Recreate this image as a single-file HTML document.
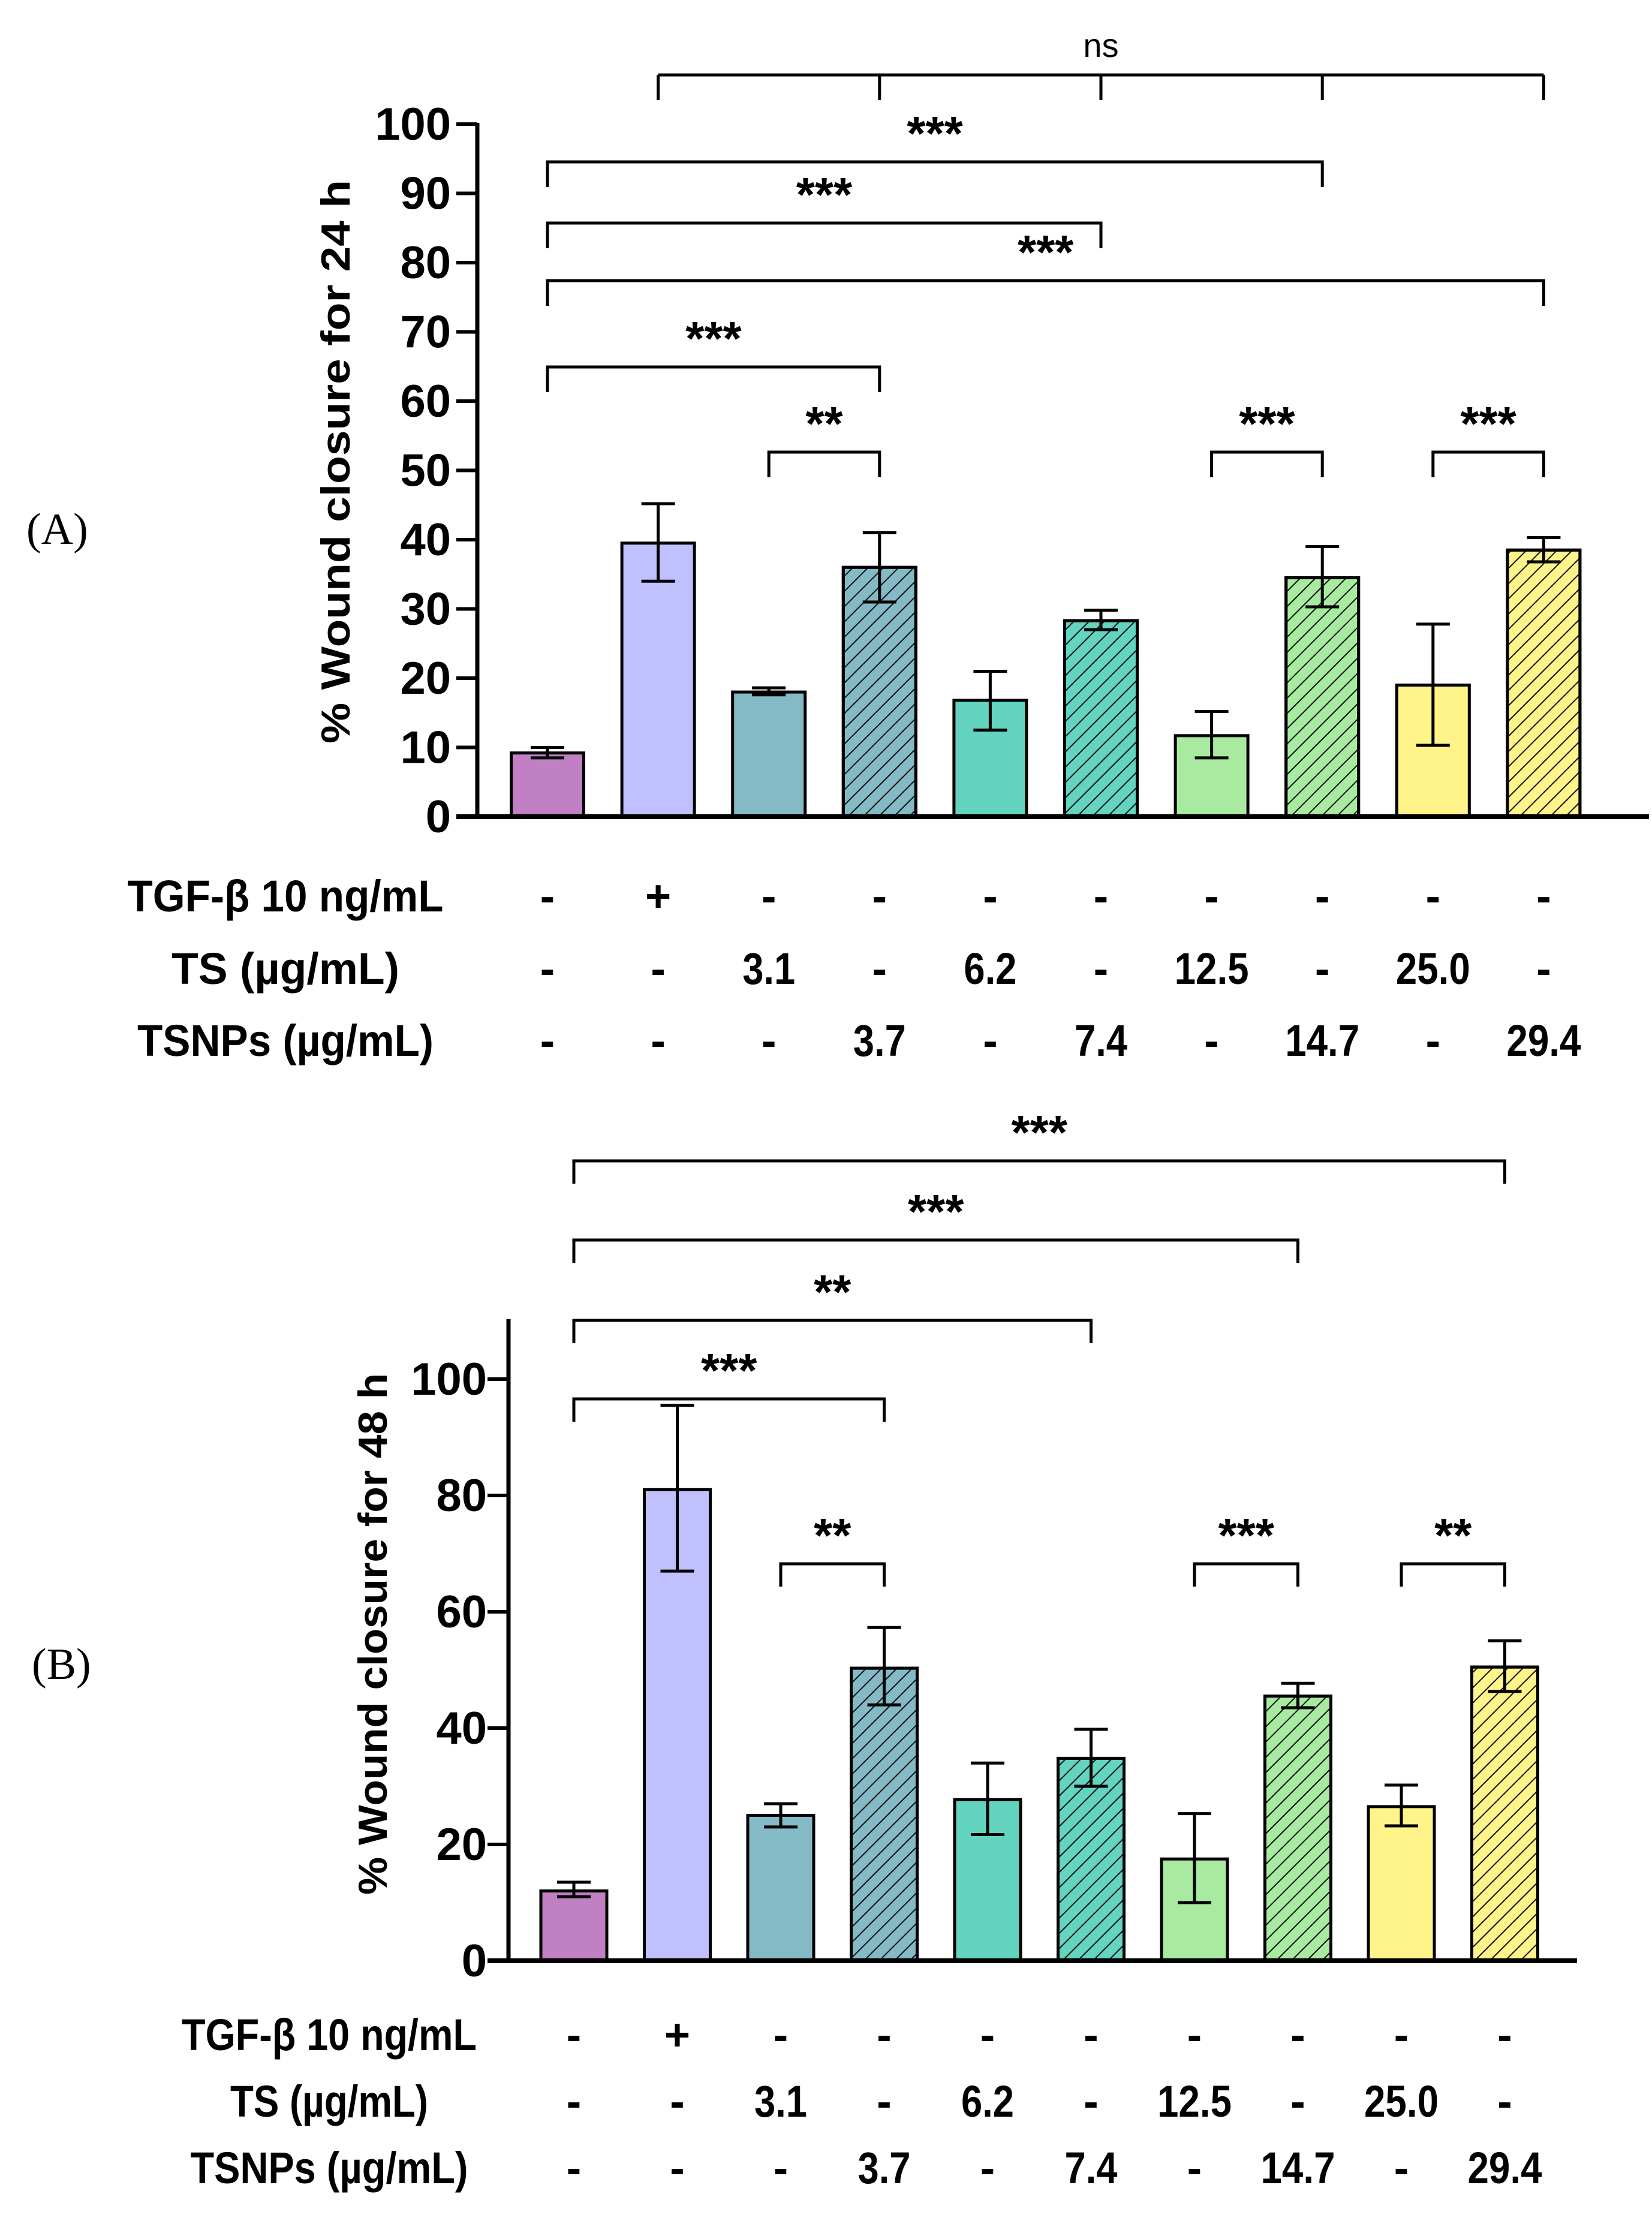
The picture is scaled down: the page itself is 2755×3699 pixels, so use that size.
<!DOCTYPE html>
<html><head><meta charset="utf-8"><style>
html,body{margin:0;padding:0;background:#fff}
svg{display:block}
text{font-family:"Liberation Sans Narrow","Liberation Sans",sans-serif;font-weight:bold;fill:#000}
.title{font-family:"Liberation Sans",sans-serif}
.panel{font-family:"Liberation Serif",serif;font-weight:normal}
</style></head><body>
<svg id="chart" xmlns="http://www.w3.org/2000/svg" width="2755" height="3699" viewBox="0 0 2755 3699">
<defs>
<pattern id="hatch" patternUnits="userSpaceOnUse" width="18" height="18" patternTransform="rotate(45)">
<line x1="0" y1="0" x2="0" y2="18" stroke="#111" stroke-width="4"/>
</pattern>
</defs>
</svg>
<script>
const categories = ["ctrl","tgf","ts3.1","tsnp3.7","ts6.2","tsnp7.4","ts12.5","tsnp14.7","ts25.0","tsnp29.4"];
const valuesA = [9.2, 39.5, 18.0, 36.0, 16.8, 28.3, 11.7, 34.5, 19.0, 38.5];
const errLowA = [8.5, 34.0, 17.6, 31.0, 12.5, 27.0, 8.5, 30.3, 10.3, 36.8];
const errHighA = [10.0, 45.2, 18.6, 41.0, 21.0, 29.8, 15.2, 39.0, 27.8, 40.3];
const valuesB = [12.0, 81.0, 25.0, 50.3, 27.7, 34.8, 17.5, 45.5, 26.5, 50.5];
const errLowB = [11.0, 67.0, 23.0, 44.0, 21.7, 30.0, 10.0, 43.5, 23.2, 46.3];
const errHighB = [13.5, 95.5, 27.0, 57.3, 34.0, 39.8, 25.3, 47.7, 30.2, 55.0];
const ticksA = [0,10,20,30,40,50,60,70,80,90,100];
const ticksB = [0,20,40,60,80,100];
const rowTGF = ["-","+","-","-","-","-","-","-","-","-"];
const rowTS = ["-","-","3.1","-","6.2","-","12.5","-","25.0","-"];
const rowTSNP = ["-","-","-","3.7","-","7.4","-","14.7","-","29.4"];
const rowNames = ["TGF-\u03b2 10 ng/mL","TS (\u00b5g/mL)","TSNPs (\u00b5g/mL)"];
const colors = ["#C17FC4","#C0C0FF","#84BAC6","#84BAC6","#62D4BF","#62D4BF","#A8EAA0","#A8EAA0","#FEF489","#FEF489"];
const hatched = [false,false,false,true,false,true,false,true,false,true];
const bracketsA = [[0,7,"***"],[0,5,"***"],[0,9,"***"],[0,3,"***"],[2,3,"**"],[6,7,"***"],[8,9,"***"]];
const bracketsB = [[0,9,"***"],[0,7,"***"],[0,5,"**"],[0,3,"***"],[2,3,"**"],[6,7,"***"],[8,9,"**"]];

const svg = document.getElementById('chart');
const NS = "http://www.w3.org/2000/svg";
function mk(tag, attrs, parent){
  const e = document.createElementNS(NS, tag);
  for (const k in attrs) e.setAttribute(k, attrs[k]);
  (parent||svg).appendChild(e); return e;
}
function txt(s, attrs, parent){ const t = mk('text', attrs, parent); t.textContent = s; return t; }
function numLen(s){ let n=0; for (const ch of s) n += (ch==='.') ? 16 : 36; return n; }

function panel(cfg){
  const g = mk('g', {});
  
  
  const yS = v => cfg.y0 + (cfg.y100 - cfg.y0) * v / 100;
  const xS = i => cfg.x0 + cfg.step * i;
  cfg.values.forEach((v,i)=>{
    const r = mk('rect', {x:xS(i)-cfg.bw/2, y:yS(v), width:cfg.bw, height:cfg.y0-yS(v), fill:colors[i], stroke:'#000','stroke-width':5}, g);
    
    
    if (hatched[i]) {
      const h = mk('rect', {x:xS(i)-cfg.bw/2, y:yS(v), width:cfg.bw, height:cfg.y0-yS(v), fill:'url(#hatch)', stroke:'#000','stroke-width':5}, g);
      
      
    }
    const eg = mk('g', {stroke:'#000','stroke-width':5,fill:'none'}, g);
    
    
    const cx = xS(i), lo = yS(cfg.lo[i]), hi = yS(cfg.hi[i]);
    mk('line', {x1:cx, x2:cx, y1:lo, y2:hi}, eg);
    mk('line', {x1:cx-28, x2:cx+28, y1:lo, y2:lo}, eg);
    mk('line', {x1:cx-28, x2:cx+28, y1:hi, y2:hi}, eg);
  });
  const ya = mk('line', {x1:cfg.ax, x2:cfg.ax, y1:cfg.axTop, y2:cfg.y0+4, stroke:'#000','stroke-width':7}, g);
  
  
  const xa = mk('line', {x1:cfg.ax-35, x2:cfg.axEnd, y1:cfg.y0, y2:cfg.y0, stroke:'#000','stroke-width':8}, g);
  
  
  cfg.ticks.forEach(t=>{
    mk('line', {x1:cfg.ax-35, x2:cfg.ax, y1:yS(t), y2:yS(t), stroke:'#000','stroke-width':6}, g);
    const l = txt(String(t), {x:cfg.labR, y:yS(t)+26, 'text-anchor':'end','font-size':76}, g);
    
    
  });
  const yt = txt(cfg.title, {x:0, y:0, transform:`translate(${cfg.titleX},${cfg.titleY}) rotate(-90)`, 'text-anchor':'middle','font-size':68, class:'title', textLength:cfg.titleLen, lengthAdjust:'spacingAndGlyphs'}, g);
  
  
  const pl = txt(cfg.panel, {x:cfg.panelX, y:cfg.panelY+25, 'font-size':74, class:'panel'}, g);
  
  
  cfg.brackets.forEach((b,k)=>{
    const bg = mk('g', {}, g);
    
    
    const [a, c, s] = b; const by = cfg.bY[k];
    mk('path', {d:`M${xS(a)},${by+cfg.drop} V${by} H${xS(c)} V${by+cfg.drop}`, stroke:'#000','stroke-width':5, fill:'none'}, bg);
    txt(s, {x:(xS(a)+xS(c))/2, y:by-20, 'text-anchor':'middle','font-size':80}, bg);
  });
  [rowTGF,rowTS,rowTSNP].forEach((row,r)=>{
    const rg = mk('g', {}, g);
    
    
    txt(rowNames[r], {x:cfg.rowNameX, y:cfg.rowY[r]+27, 'text-anchor':'middle','font-size':74, textLength:cfg.rowLen[r], lengthAdjust:'spacingAndGlyphs'}, rg);
    row.forEach((s,i)=>{
      const a = {x:xS(i), y:cfg.rowY[r]+27, 'text-anchor':'middle','font-size':74};
      if (s.length > 1) { a.textLength = numLen(s); a.lengthAdjust = 'spacingAndGlyphs'; }
      txt(s, a, rg);
    });
  });
}

panel({name:'panel-a-24h', values:valuesA, lo:errLowA, hi:errHighA, ticks:ticksA,
  x0:913, step:184.6, bw:121, y0:1362, y100:207, ax:796, axTop:205, axEnd:2750, labR:752,
  title:'% Wound closure for 24 h', titleX:583, titleY:770, titleLen:940,
  panel:'(A)', panelX:44, panelY:882,
  brackets:bracketsA, bY:[270,372,468,612,754,754,754], drop:42,
  rowY:[1493,1614,1734], rowNameX:476, rowLen:[527,380,494]});
(function(){
  const g = mk('g', {});
  
  
  const xs = [1, 3, 5, 7, 9].map(i => 913 + 184.6*i);
  mk('line', {x1:xs[0], x2:xs[4], y1:125, y2:125, stroke:'#000','stroke-width':5}, g);
  xs.forEach(x=> mk('line', {x1:x, x2:x, y1:125, y2:167, stroke:'#000','stroke-width':5}, g));
  txt('ns', {x:(xs[0]+xs[4])/2, y:95, 'text-anchor':'middle','font-size':56, style:'font-weight:normal'}, g);
})();

panel({name:'panel-b-48h', values:valuesB, lo:errLowB, hi:errHighB, ticks:ticksB,
  x0:957, step:172.5, bw:110, y0:3270, y100:2300, ax:848, axTop:2200, axEnd:2630, labR:812,
  title:'% Wound closure for 48 h', titleX:645, titleY:2725, titleLen:870,
  panel:'(B)', panelX:53, panelY:2775,
  brackets:bracketsB, bY:[1936,2068,2202,2333,2608,2608,2608], drop:38,
  rowY:[3392,3503,3614], rowNameX:549, rowLen:[492,330,463]});
</script>
</body></html>
